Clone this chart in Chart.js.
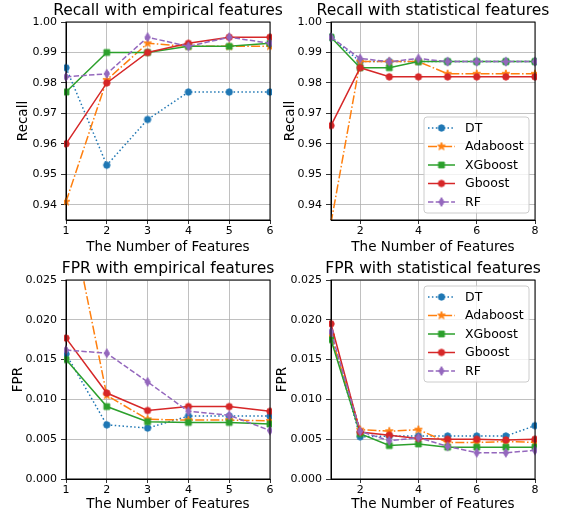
<!DOCTYPE html>
<html>
<head>
<meta charset="utf-8">
<script src="https://cdn.jsdelivr.net/npm/chart.js@4.4.0/dist/chart.umd.min.js"></script>
<style>
  html, body { margin: 0; padding: 0; background: #fff; }
  #grid { position: relative; width: 566px; height: 518px; overflow: hidden; }
  #grid canvas { position: absolute; }
</style>
</head>
<body>
<div id="grid">
  <canvas id="recall-emp"  width="290" height="258" style="left:0;top:0"></canvas>
  <canvas id="recall-stat" width="291" height="258" style="left:275px;top:0"></canvas>
  <canvas id="fpr-emp"     width="290" height="260" style="left:0;top:258px"></canvas>
  <canvas id="fpr-stat"    width="296" height="260" style="left:270px;top:258px"></canvas>
</div>
<script>
// ---- data ----
const MODELS = ["DT", "Adaboost", "XGboost", "Gboost", "RF"];
const EMP_FEATURES = [1, 2, 3, 4, 5, 6];
const STAT_FEATURES = [1, 2, 3, 4, 5, 6, 7, 8];
const EMP_X_TICKS = [1, 2, 3, 4, 5, 6];
const STAT_X_TICKS = [2, 4, 6, 8];
const RECALL_TICKS = [0.94, 0.95, 0.96, 0.97, 0.98, 0.99, 1.0];
const FPR_TICKS = [0, 0.005, 0.01, 0.015, 0.02, 0.025];

const recallEmpDT  = [0.985, 0.953, 0.968, 0.977, 0.977, 0.977];
const recallEmpAda = [0.941, 0.981, 0.993, 0.992, 0.992, 0.992];
const recallEmpXGB = [0.977, 0.990, 0.990, 0.992, 0.992, 0.993];
const recallEmpGB  = [0.960, 0.980, 0.990, 0.993, 0.995, 0.995];
const recallEmpRF  = [0.982, 0.983, 0.995, 0.992, 0.995, 0.993];

const recallStatDT  = [0.995, 0.987, 0.987, 0.987, 0.987, 0.987, 0.987, 0.987];
const recallStatAda = [0.934, 0.987, 0.987, 0.987, 0.983, 0.983, 0.983, 0.983];
const recallStatXGB = [0.995, 0.985, 0.985, 0.987, 0.987, 0.987, 0.987, 0.987];
const recallStatGB  = [0.966, 0.985, 0.982, 0.982, 0.982, 0.982, 0.982, 0.982];
const recallStatRF  = [0.995, 0.988, 0.987, 0.988, 0.987, 0.987, 0.987, 0.987];

const fprEmpDT  = [0.0157, 0.0068, 0.0064, 0.0079, 0.0079, 0.0079];
const fprEmpAda = [0.0360, 0.0105, 0.0075, 0.0074, 0.0074, 0.0073];
const fprEmpXGB = [0.0150, 0.0091, 0.0072, 0.0071, 0.0071, 0.0069];
const fprEmpGB  = [0.0177, 0.0108, 0.0086, 0.0091, 0.0091, 0.0085];
const fprEmpRF  = [0.0162, 0.0158, 0.0122, 0.0085, 0.0080, 0.0061];

const fprStatDT  = [0.0180, 0.0053, 0.0054, 0.0054, 0.0054, 0.0054, 0.0054, 0.0067];
const fprStatAda = [0.0180, 0.0062, 0.0060, 0.0062, 0.0046, 0.0046, 0.0047, 0.0046];
const fprStatXGB = [0.0175, 0.0057, 0.0042, 0.0044, 0.0040, 0.0040, 0.0040, 0.0040];
const fprStatGB  = [0.0195, 0.0059, 0.0055, 0.0051, 0.0050, 0.0050, 0.0049, 0.0050];
const fprStatRF  = [0.0185, 0.0060, 0.0048, 0.0052, 0.0041, 0.0033, 0.0033, 0.0036];

// ---- styles ----
const FONT = "'DejaVu Sans', sans-serif";
const COLORS = ["#1f77b4", "#ff7f0e", "#2ca02c", "#d62728", "#9467bd"];
const MARKERS = ["o", "*", "s", "o", "d"];
const DASHES = [[1.5, 2.4], [9, 2.3, 1.5, 2.3], [], [], [5.4, 2.3]];
const GRID = "#b0b0b0";

// small filled marker sprites used both on the lines and in the legend
function markerCanvas(kind, color) {
  const c = document.createElement("canvas");
  c.width = kind === "d" ? 8 : 10;
  c.height = kind === "d" ? 12 : 10;
  const g = c.getContext("2d");
  const cx = c.width / 2, cy = c.height / 2;
  g.fillStyle = color;
  g.strokeStyle = color;
  g.lineWidth = 1;
  g.beginPath();
  if (kind === "o") {
    g.arc(cx, cy, 3.2, 0, Math.PI * 2);
  } else if (kind === "s") {
    g.rect(cx - 2.9, cy - 2.9, 5.8, 5.8);
  } else if (kind === "*") {
    for (let k = 0; k < 10; k++) {
      const r = k % 2 ? 1.6 : 4.1;
      const a = -Math.PI / 2 + (k * Math.PI) / 5;
      g.lineTo(cx + r * Math.cos(a), cy + r * Math.sin(a));
    }
    g.closePath();
  } else {
    g.moveTo(cx, cy - 4.4);
    g.lineTo(cx + 2.6, cy);
    g.lineTo(cx, cy + 4.4);
    g.lineTo(cx - 2.6, cy);
    g.closePath();
  }
  g.fill();
  g.stroke();
  return c;
}
const SPRITES = MODELS.map((m, i) => markerCanvas(MARKERS[i], COLORS[i]));

function buildSets(xs, series) {
  return series.map((ys, i) => ({
    label: MODELS[i],
    data: xs.map((x, j) => ({ x: x, y: ys[j] })),
    borderColor: COLORS[i],
    backgroundColor: COLORS[i],
    borderWidth: 1.5,
    borderDash: DASHES[i],
    pointStyle: SPRITES[i],
    pointRadius: 4,
    tension: 0,
    fill: false,
    order: MODELS.length - 1 - i,
    clip: { left: 2, right: 2, top: 0, bottom: 0 },
  }));
}

// frame on top of lines, title over the plot area, boxed legend inside it
const panelDecor = {
  id: "panelDecor",
  afterDatasetsDraw(chart) {
    const { ctx, chartArea: a } = chart;
    ctx.save();
    ctx.strokeStyle = "#000";
    ctx.lineWidth = 1;
    ctx.strokeRect(a.left, a.top, a.right - a.left, a.bottom - a.top);
    ctx.restore();
  },
  afterDraw(chart, args, opts) {
    const { ctx, chartArea: a } = chart;
    ctx.save();
    ctx.fillStyle = "#000";
    ctx.font = "15.5px " + FONT;
    ctx.textAlign = "center";
    ctx.textBaseline = "middle";
    ctx.fillText(opts.title, (a.left + a.right) / 2, a.top - 11);

    if (opts.legendTop != null) {
      const w = 105, h = 96, rowH = 18.5;
      const x0 = a.right - 6 - w, y0 = a.top + opts.legendTop;
      ctx.beginPath();
      ctx.roundRect(x0, y0, w, h, 3);
      ctx.fillStyle = "rgba(255,255,255,0.8)";
      ctx.fill();
      ctx.strokeStyle = "#cccccc";
      ctx.lineWidth = 1;
      ctx.stroke();
      ctx.font = "12.5px " + FONT;
      ctx.textAlign = "left";
      chart.data.datasets.forEach((ds, i) => {
        const cy = y0 + 11 + i * rowH;
        ctx.beginPath();
        ctx.setLineDash(ds.borderDash);
        ctx.strokeStyle = ds.borderColor;
        ctx.lineWidth = ds.borderWidth;
        ctx.moveTo(x0 + 4, cy);
        ctx.lineTo(x0 + 31, cy);
        ctx.stroke();
        ctx.setLineDash([]);
        const s = ds.pointStyle;
        ctx.drawImage(s, x0 + 17.5 - s.width / 2, cy - s.height / 2);
        ctx.fillStyle = "#000";
        ctx.fillText(ds.label, x0 + 41, cy + 0.5);
      });
    }
    ctx.restore();
  },
};

function panel(id, cfg) {
  const tickFont = { family: FONT, size: 11 };
  const labelFont = { family: FONT, size: 13.5 };
  return new Chart(document.getElementById(id), {
    type: "line",
    data: { datasets: buildSets(cfg.xs, cfg.series) },
    options: {
      responsive: false,
      animation: false,
      events: [],
      layout: { padding: { top: 22, right: cfg.padRight, left: 0, bottom: 0 } },
      plugins: {
        legend: { display: false },
        tooltip: { enabled: false },
        panelDecor: { title: cfg.title, legendTop: cfg.legendTop },
      },
      scales: {
        x: {
          type: "linear",
          min: cfg.xs[0],
          max: cfg.xs[cfg.xs.length - 1],
          afterBuildTicks: (s) => { s.ticks = cfg.xTicks.map((v) => ({ value: v })); },
          afterFit: (s) => { s.height = cfg.xHeight; s.paddingLeft = 0; s.paddingRight = 0; },
          grid: { color: GRID, lineWidth: 0.8, tickColor: "#000", tickLength: 4 },
          border: { color: "#000", width: 1 },
          ticks: { color: "#000", font: tickFont, padding: 1, maxRotation: 0, autoSkip: false,
                   callback: (v) => String(v) },
          title: { display: true, text: "The Number of Features", color: "#000", font: labelFont,
                   padding: { top: 0, bottom: cfg.xTitlePad } },
        },
        y: {
          type: "linear",
          min: cfg.yMin,
          max: cfg.yMax,
          afterBuildTicks: (s) => { s.ticks = cfg.yTicks.map((v) => ({ value: v })); },
          afterFit: (s) => { s.width = cfg.yWidth; s.paddingTop = 0; s.paddingBottom = 0; },
          grid: { color: GRID, lineWidth: 0.8, tickColor: "#000", tickLength: 5 },
          border: { color: "#000", width: 1 },
          ticks: { color: "#000", font: tickFont, padding: 4, autoSkip: false,
                   callback: (v) => v.toFixed(cfg.yDigits) },
          title: { display: true, text: cfg.yLabel, color: "#000", font: labelFont,
                   padding: { top: cfg.yTitlePad, bottom: 0 } },
        },
      },
    },
    plugins: [panelDecor],
  });
}

panel("recall-emp", {
  title: "Recall with empirical features", yLabel: "Recall",
  xs: EMP_FEATURES, xTicks: EMP_X_TICKS,
  series: [recallEmpDT, recallEmpAda, recallEmpXGB, recallEmpGB, recallEmpRF],
  yMin: 0.935, yMax: 1.0, yTicks: RECALL_TICKS, yDigits: 2,
  yWidth: 66, padRight: 20, xHeight: 38, xTitlePad: 2, yTitlePad: 15,
});

panel("recall-stat", {
  title: "Recall with statistical features", yLabel: "Recall",
  xs: STAT_FEATURES, xTicks: STAT_X_TICKS,
  series: [recallStatDT, recallStatAda, recallStatXGB, recallStatGB, recallStatRF],
  yMin: 0.935, yMax: 1.0, yTicks: RECALL_TICKS, yDigits: 2,
  yWidth: 56, padRight: 31, xHeight: 38, xTitlePad: 2, yTitlePad: 7, legendTop: 95,
});

panel("fpr-emp", {
  title: "FPR with empirical features", yLabel: "FPR",
  xs: EMP_FEATURES, xTicks: EMP_X_TICKS,
  series: [fprEmpDT, fprEmpAda, fprEmpXGB, fprEmpGB, fprEmpRF],
  yMin: 0, yMax: 0.025, yTicks: FPR_TICKS, yDigits: 3,
  yWidth: 66, padRight: 20, xHeight: 39, xTitlePad: 5, yTitlePad: 10,
});

panel("fpr-stat", {
  title: "FPR with statistical features", yLabel: "FPR",
  xs: STAT_FEATURES, xTicks: STAT_X_TICKS,
  series: [fprStatDT, fprStatAda, fprStatXGB, fprStatGB, fprStatRF],
  yMin: 0, yMax: 0.025, yTicks: FPR_TICKS, yDigits: 3,
  yWidth: 61, padRight: 31, xHeight: 39, xTitlePad: 5, yTitlePad: 4, legendTop: 6,
});
</script>
</body>
</html>
